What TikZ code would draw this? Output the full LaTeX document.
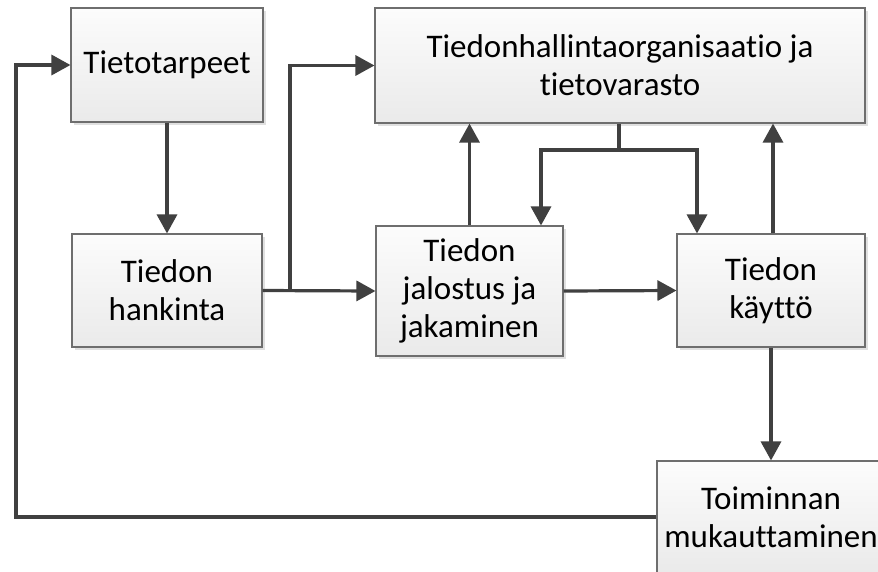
\documentclass[tikz,border=0pt]{standalone}
\usepackage{fontspec}
\setmainfont{Carlito}[Ligatures=NoCommon]
\usetikzlibrary{arrows.meta,shadows}
\definecolor{linegray}{HTML}{404040}
\definecolor{boxedge}{HTML}{6E6E6E}
\definecolor{boxtop}{HTML}{FCFCFC}
\definecolor{boxbottom}{HTML}{EAEAEA}
\tikzset{
  stagebox/.style={draw=boxedge, line width=1.1pt, rectangle,
    top color=boxtop, bottom color=boxbottom,
    drop shadow={shadow xshift=3pt, shadow yshift=-3pt, fill=black, opacity=0.12},
    align=center, inner sep=0pt,
    font=\fontsize{33}{38}\selectfont},
  conn/.style={draw=linegray, line width=3.2pt},
  arr/.style={conn, -{Triangle[length=19pt,width=20pt]}}
}
\begin{document}
\begin{tikzpicture}[x=1pt,y=-1pt]
  \useasboundingbox (0,0) rectangle (878,571);
  \clip (0,0) rectangle (878,571);
  \fill[white] (0,0) rectangle (878,571);

  % process stages
  \node[stagebox, minimum width=192pt, minimum height=114pt] (tt) at (167,65) {Tietotarpeet};
  \node[stagebox, minimum width=490pt, minimum height=115pt] (th) at (620,65.5) {Tiedonhallintaorganisaatio ja\\tietovarasto};
  \node[stagebox, minimum width=190pt, minimum height=113pt] (hk) at (167,290.5) {Tiedon\\hankinta};
  \node[stagebox, minimum width=187pt, minimum height=130pt] (jj) at (469.5,291) {Tiedon\\jalostus ja\\jakaminen};
  \node[stagebox, minimum width=188pt, minimum height=113pt] (kk) at (771,290.5) {Tiedon\\käyttö};
  \node[stagebox, minimum width=228pt, minimum height=112pt] (tm) at (771,517) {Toiminnan\\mukauttaminen};

  % junction points
  \coordinate (b1) at (290,290.5);
  \coordinate (sp) at (619,150);
  \coordinate (fb) at (16,0);

  % flows
  \draw[arr] (tt.south) -- (hk.north);
  \draw[arr] (hk.east) -- (jj.west);
  \draw[arr] (b1) |- (th.west);
  \draw[arr] (jj.north) -- (jj.north |- th.south);
  \draw[conn] (sp |- th.south) -- (sp);
  \draw[arr] (sp) -| ([xshift=71.5pt]jj.north);
  \draw[arr] (sp) -| ([xshift=-74pt]kk.north);
  \draw[arr] ([xshift=2pt]kk.north) -- ([xshift=2pt]kk.north |- th.south);
  \draw[arr] (jj.east) -- (kk.west);
  \draw[arr] (kk.south) -- (tm.north);
  \draw[arr] (tm.west) -- (tm.west -| fb) -- (fb |- tt.west) -- (tt.west);
\end{tikzpicture}
\end{document}
